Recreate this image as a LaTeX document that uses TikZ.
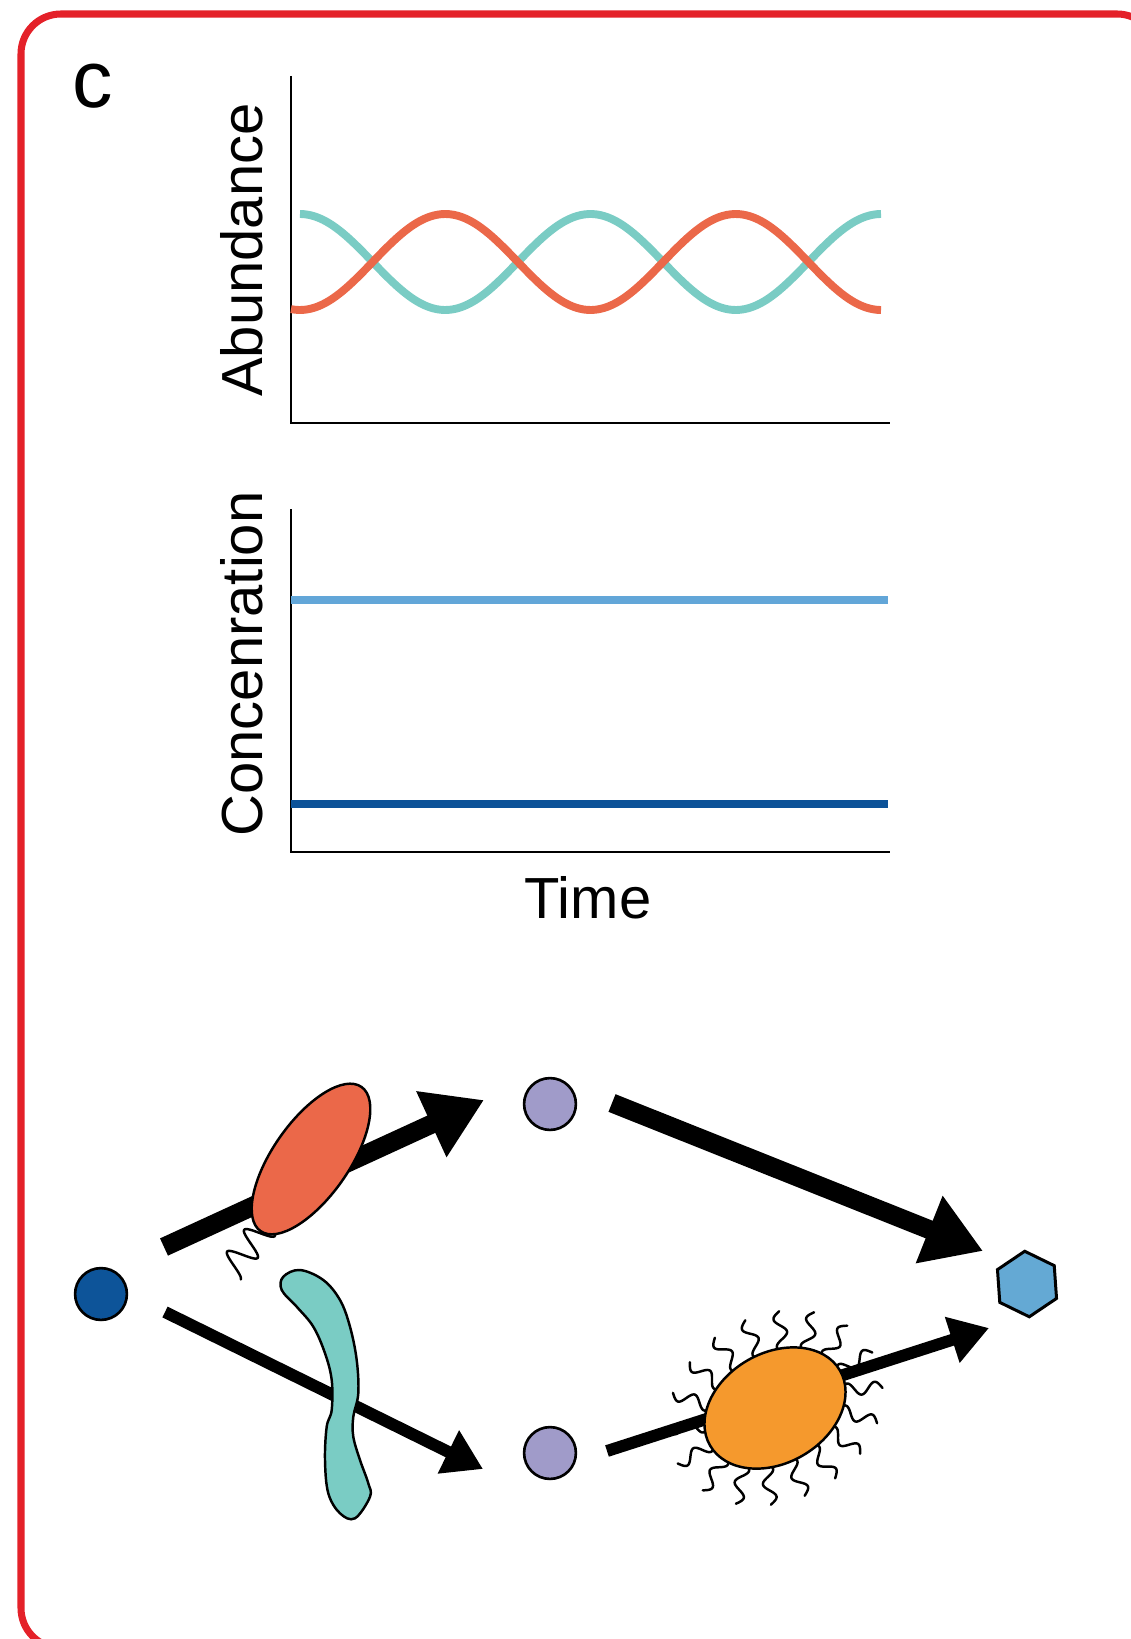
\documentclass[tikz,border=0pt]{standalone}
\usepackage{fontspec}
\setmainfont{Liberation Sans}
\usepackage{xcolor}
\usetikzlibrary{arrows.meta,shapes.geometric}
\definecolor{BorderRed}{HTML}{E42129}
\definecolor{CurveTeal}{HTML}{7ACCC4}
\definecolor{CurveRed}{HTML}{EB6849}
\definecolor{LineLight}{HTML}{62A6D8}
\definecolor{LineDark}{HTML}{0C5298}
\definecolor{SourceBlue}{HTML}{0D5499}
\definecolor{MidPurple}{HTML}{A09BC9}
\definecolor{HexBlue}{HTML}{64A9D4}
\definecolor{CellOrange}{HTML}{F5992D}

\begin{document}
\begin{tikzpicture}[x=0.02cm, y=0.02cm,
    every node/.style={font=\fontsize{33}{38}\selectfont},
    axis/.style={line width=1.4pt},
    curve/.style={line width=4.5pt},
    dot/.style={circle, draw, line width=1.5pt, minimum size=29.5pt, inner sep=0pt},
    fatarrow/.style={line width=10.8pt, -{Triangle[length=33pt, width=39pt]}},
    thinarrow/.style={line width=6.8pt, -{Triangle[length=22pt, width=26pt]}},
    cell/.style={draw, line width=1.4pt},
    hair/.style={line width=1.4pt, line cap=round}]
  \path[use as bounding box] (0,0) rectangle (1131,-1639);
  \clip (0,0) rectangle (1131,-1639);
  % frame
  \draw[BorderRed, line width=4pt, rounded corners=22.7pt] (21,-14) rectangle (1157,-1648);
  \node[font=\fontsize{46}{50}\selectfont, anchor=base] (panel) at (93,-108) {c};

  % abundance over time
  \draw[axis] (291,-76) -- (291,-423) -- (890,-423);
  \draw[curve, CurveTeal] plot[domain=300:881, samples=150, smooth]
    (\x,{-262+48*cos((\x-300)/290.5*360)});
  \draw[curve, CurveRed] plot[domain=291:881, samples=150, smooth]
    (\x,{-262-48*cos((\x-300)/290.5*360)});
  \node[rotate=90, anchor=base] (abund) at (262,-250) {Abundance};

  % concentration over time
  \draw[axis] (291,-509) -- (291,-852) -- (890,-852);
  \draw[curve, LineLight] (291,-600) -- (888,-600);
  \draw[curve, LineDark] (291,-804) -- (888,-804);
  \node[rotate=90, anchor=base] (conc) at (262,-664) {Concenration};
  \node[anchor=base] (time) at (588,-918) {Time};

  % pathway
  \node[dot, fill=SourceBlue] (src) at (101,-1294) {};
  \node[dot, fill=MidPurple] (ptop) at (550,-1104) {};
  \node[dot, fill=MidPurple] (pbot) at (550,-1453) {};
  \node[regular polygon, regular polygon sides=6, draw, line width=1.7pt, fill=HexBlue,
    minimum size=37.4pt, inner sep=0pt, rotate=34] (prod) at (1027,-1284) {};

  \draw[fatarrow] ([shift={(63,47)}]src.center) -- ([shift={(-66,4)}]ptop.center);
  \draw[fatarrow] ([shift={(62,1)}]ptop.center) -- ([shift={(-44,33)}]prod.center);
  \draw[thinarrow] ([shift={(64,-18)}]src.center) -- ([shift={(-67,-16)}]pbot.center);
  \draw[thinarrow] ([shift={(57,2)}]pbot.center) -- ([shift={(-38,-44)}]prod.center);

  % red cell with its tail
  \draw[hair, shift={(268,-1222)}, rotate=-128]
    plot[domain=0:62, samples=60, smooth] (\x,{14*sin(\x*13)});
  \filldraw[cell, fill=CurveRed, rotate around={55:(311,-1159)}]
    (311,-1159) ellipse [x radius=88, y radius=38];

  % bent teal rod
  \filldraw[cell, fill=CurveTeal] plot[smooth cycle, tension=0.6] coordinates {
    (281.7,-1290) (296.7,-1306.7) (313.3,-1326.7) (325,-1353.3) (331.7,-1380)
    (331.7,-1410) (326.7,-1426.7) (325,-1460) (328.3,-1493.3) (340,-1513.3)
    (355,-1518.3) (370,-1496.7) (368.3,-1483.3) (360,-1460) (353.3,-1436.7)
    (353.3,-1416.7) (358.3,-1393.3) (356.7,-1360) (350,-1326.7) (340,-1300)
    (323.3,-1280) (300,-1270) (283.3,-1276.7)};

  % hairy orange cell
  \begin{scope}[shift={(775,-1408)}, rotate=30]
    \foreach \t in {0,20,...,340}{
      \pgfmathsetmacro\nrm{atan2(75*sin(\t),55*cos(\t))}
      \draw[hair, shift={({70*cos(\t)},{50*sin(\t)})}, rotate=\nrm]
        plot[domain=0:42, samples=40, smooth] (\x,{6*sin(\x*13)});
    }
    \filldraw[cell, fill=CellOrange] (0,0) ellipse [x radius=75, y radius=55];
  \end{scope}
\end{tikzpicture}
\end{document}
